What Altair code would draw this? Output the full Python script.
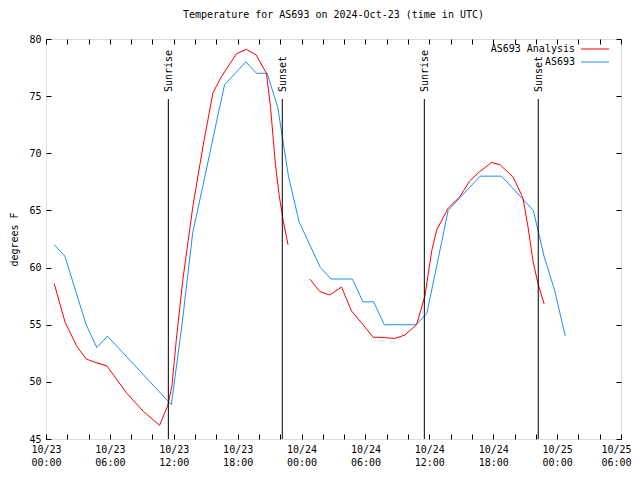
import altair as alt
import pandas as pd

FONT = "DejaVu Sans Mono"

series_names = ["AS693 Analysis", "AS693"]
series_colors = ["#ff0000", "#1e8cff"]

# Observations (AS693), hourly starting at 00:46 UTC on 10/23
obs_start_hour = 0.77
obs_temps = [62, 61, 58, 55, 53, 54, 53, 52, 51, 50, 49, 48, 55, 63, 67.3, 71.7,
             76, 77, 78, 77, 77, 74, 68, 64, 62, 60, 59, 59, 59, 57, 57, 55,
             55, 55, 55, 56, 60.5, 65, 66, 67, 68, 68, 68, 67, 66, 65, 61, 58, 54]

# Analysis (two segments, gap between them)
ana1_hours = [0.77, 1.80, 2.90, 3.78, 4.62, 5.71, 7.59, 9.16, 10.67, 11.42, 11.82,
              12.24, 12.86, 13.80, 14.74, 15.68, 16.47, 17.25, 17.88, 18.82, 19.74,
              20.70, 21.08, 21.55, 21.90, 22.26, 22.73]
ana1_temps = [58.6, 55.2, 53.1, 52.0, 51.7, 51.4, 49.0, 47.4, 46.2, 47.9, 49.6,
              53.7, 59.0, 65.4, 70.6, 75.3, 76.7, 77.8, 78.7, 79.1, 78.6,
              77.0, 74.1, 69.0, 66.3, 64.2, 62.0]
ana2_hours = [24.77, 25.71, 26.65, 27.75, 28.69, 29.78, 30.72, 31.35, 32.76, 33.70,
              34.80, 35.58, 36.23, 36.70, 37.77, 38.87, 39.80, 40.74, 41.85, 42.63,
              43.88, 44.79, 45.26, 45.73, 46.20, 46.79]
ana2_temps = [59.0, 57.9, 57.6, 58.3, 56.2, 55.0, 53.9, 53.9, 53.8, 54.1,
              55.0, 57.5, 61.5, 63.3, 65.2, 66.2, 67.6, 68.4, 69.2, 69.0,
              67.9, 66.1, 63.6, 60.6, 58.6, 56.8]

sun_hours = [11.49, 22.19, 35.53, 46.23]
sun_labels = ["Sunrise", "Sunset", "Sunrise", "Sunset"]
sun_line_top = 74.75

x_tick_dates = ["10/23", "10/23", "10/23", "10/23", "10/24", "10/24", "10/24", "10/24", "10/25", "10/25"]
x_tick_times = ["00:00", "06:00", "12:00", "18:00", "00:00", "06:00", "12:00", "18:00", "00:00", "06:00"]
x_tick_step = 6
x_minor_step = 2
y_ticks = [45, 50, 55, 60, 65, 70, 75, 80]

rows = []
for i, t in enumerate(obs_temps):
    rows.append({"h": obs_start_hour + i, "T": t, "series": series_names[1], "seg": "obs"})
for h, t in zip(ana1_hours, ana1_temps):
    rows.append({"h": h, "T": t, "series": series_names[0], "seg": "a1"})
for h, t in zip(ana2_hours, ana2_temps):
    rows.append({"h": h, "T": t, "series": series_names[0], "seg": "a2"})
df = pd.DataFrame(rows)
sun_df = pd.DataFrame({"h": sun_hours, "label": sun_labels})

x_max = x_tick_step * (len(x_tick_dates) - 1)
xscale = alt.Scale(domain=[0, x_max], nice=False, zero=False)
yscale = alt.Scale(domain=[y_ticks[0], y_ticks[-1]], nice=False, zero=False)

parts = []
for i, (d, t) in enumerate(zip(x_tick_dates, x_tick_times)):
    parts.append(f"datum.value == {i * x_tick_step} ? ['{d}', '{t}']")
label_expr = " : ".join(parts) + " : ''"
x_vals = list(range(0, x_max + 1, x_minor_step))

TS = 5
bottom_axis = alt.Axis(orient="bottom", values=x_vals, labelExpr=label_expr, offset=-TS,
                       tickSize=TS, domain=False, grid=False, title=None,
                       labelLineHeight=13, labelPadding=5, labelFont=FONT,
                       labelFontSize=10, labelColor="black", tickColor="black",
                       labelFlush=False, labelOverlap=False,
                       labelOffset={"condition": {"test": f"datum.value == {x_max}", "value": -5},
                                    "value": 0})
left_axis = alt.Axis(orient="left", values=y_ticks, offset=-TS, tickSize=TS, domain=False,
                     grid=False, title="degrees F", titleFont=FONT, titleFontSize=10,
                     titleFontWeight="normal", titleColor="black", titlePadding=9,
                     labelFont=FONT, labelFontSize=10, labelColor="black",
                     labelPadding=5, tickColor="black", labelFlush=False)
top_axis = alt.Axis(orient="top", values=x_vals, offset=-TS, tickSize=TS, domain=False,
                    grid=False, labels=False, title=None, tickColor="black")
right_axis = alt.Axis(orient="right", values=y_ticks, offset=-TS, tickSize=TS, domain=False,
                      grid=False, labels=False, title=None, tickColor="black")

lines = alt.Chart(df).mark_line(strokeWidth=1, interpolate="linear").encode(
    x=alt.X("h:Q", scale=xscale, axis=bottom_axis),
    y=alt.Y("T:Q", scale=yscale, axis=left_axis),
    color=alt.Color("series:N", scale=alt.Scale(domain=series_names, range=series_colors),
                    legend=None),
    detail="seg:N",
)

rules = alt.Chart(sun_df).mark_rule(color="black", strokeWidth=1).encode(
    x=alt.X("h:Q", scale=xscale, axis=top_axis),
    y=alt.Y(datum=y_ticks[0], scale=yscale, axis=right_axis),
    y2=alt.Y2(datum=sun_line_top),
)

texts = alt.Chart(sun_df).mark_text(angle=270, align="left", baseline="middle", dx=7, dy=1,
                                     font=FONT, fontSize=10, color="black").encode(
    x=alt.X("h:Q", scale=xscale, axis=None),
    y=alt.Y(datum=sun_line_top, scale=yscale, axis=None),
    text="label:N",
)

# Key (legend) in the top-right corner, gnuplot style: text then line sample
key_layers = []
for i, (name, col) in enumerate(zip(series_names, series_colors)):
    kdf = pd.DataFrame({"name": [name]})
    ky = 10 + 13 * i
    key_layers.append(alt.Chart(kdf).mark_text(align="right", baseline="middle", font=FONT,
                                               fontSize=10, color="black").encode(
        x=alt.value(529), y=alt.value(ky), text="name:N"))
    key_layers.append(alt.Chart(kdf).mark_rule(color=col, strokeWidth=1).encode(
        x=alt.value(535), x2=alt.value(563), y=alt.value(ky)))

chart = alt.layer(lines, rules, texts, *key_layers).resolve_axis(
    x="independent", y="independent").properties(
    width=575, height=400,
    title=alt.TitleParams("Temperature for AS693 on 2024-Oct-23 (time in UTC)", font=FONT,
                          fontSize=10, fontWeight="normal", color="black", offset=14,
                          anchor="middle"),
    autosize=alt.AutoSizeParams(type="none"),
    padding={"left": 38, "top": 31, "right": 11, "bottom": 30},
).configure_view(stroke="black", strokeWidth=1).configure(background="white")

chart.save("out.html", embed_options={"renderer": "svg", "actions": False})
